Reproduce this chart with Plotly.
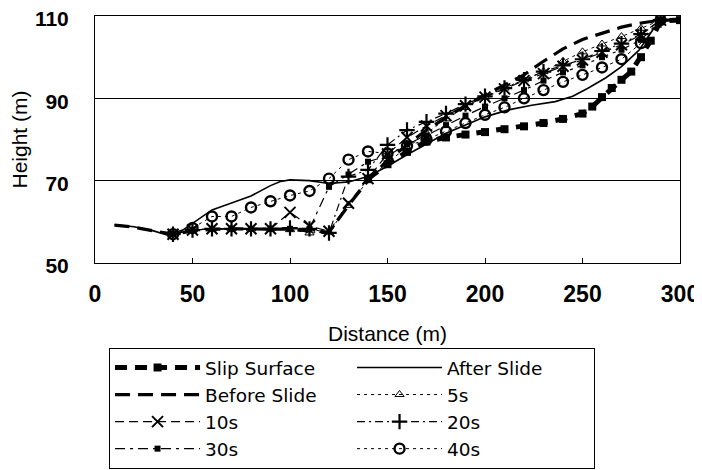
import plotly.graph_objects as go

# ---------------- data ----------------
x_time = [40, 50, 60, 70, 80, 90, 100, 110, 120, 130, 140, 150, 160, 170, 180,
          190, 200, 210, 220, 230, 240, 250, 260, 270, 280, 290]

y_5s = [57, 58, 58.3, 58.3, 58.3, 58.3, 58.1, 57.3, 57.5, 64, 70, 74.5, 78, 81.5, 85,
        87.8, 90.3, 92.5, 94.5, 96.5, 99, 101.3, 103.2, 105, 107, 109]
y_10s = [57, 58, 58.3, 58.3, 58.3, 58.3, 62.3, 59, 57.7, 64.5, 70.5, 76.5, 80.5, 83.3, 85.8,
         88.2, 90.3, 92.3, 94.3, 96, 97.8, 99.3, 101.2, 103, 105.4, 109]
y_20s = [57, 58, 58.3, 58.3, 58.3, 58.3, 58.5, 58.3, 57.3, 71, 72.6, 78.7, 82.3, 84.3, 86.3,
         88.6, 90.5, 92.5, 94.5, 96.5, 98, 99.5, 101.5, 103.3, 105.6, 109]
y_30s = [57, 58, 58.3, 58.3, 58.3, 58.3, 58.3, 58.3, 68.5, 71.5, 74.6, 76, 78.8, 81, 83.5,
         85.8, 88, 90, 92, 94.3, 96.3, 98, 100, 101.8, 104.2, 109]
y_40s = [57, 58.5, 61.3, 61.3, 63.5, 65, 66.4, 67.5, 70.5, 75.1, 77.1, 76.6, 78.4, 80, 82,
         84, 86, 87.8, 90, 92, 94, 95.7, 97.5, 99.5, 103.4, 109]

x_before = [10, 20, 30, 40, 50, 60, 70, 80, 90, 100, 110, 120, 130, 140, 150, 160, 170,
            180, 190, 200, 210, 220, 230, 240, 250, 260, 270, 280, 290, 300]
y_before = [59.2, 58.7, 57.8, 57, 57.8, 58.2, 58.3, 58.3, 58.3, 58.2, 57.8, 57.5, 64, 70,
            75, 78.7, 82.3, 85.3, 88.3, 90.8, 93.2, 95.7, 99, 102, 104.3, 105.9, 107.3,
            108.3, 109, 109]

x_slip = [140, 150, 160, 170, 180, 190, 200, 210, 220, 230, 240, 250, 255, 260,
          265, 270, 275, 280, 285, 290, 300]
y_slip = [70.5, 74, 77, 79.5, 80.5, 81.2, 81.8, 82.5, 83.2, 84, 85, 86.3, 88, 90.3,
          92.5, 94.5, 96.5, 100, 104, 108.8, 109]

x_after = [10, 20, 30, 37, 45, 50, 60, 70, 80, 90, 95, 100, 110, 120, 130, 140, 150, 160,
           170, 180, 190, 200, 212, 224, 236, 245, 253, 262, 270, 279, 286, 290, 300]
y_after = [59.3, 58.8, 57.8, 56.8, 58, 59.7, 62.9, 64.6, 66.3, 68.8, 69.8, 70.2, 70, 69.3,
           69.7, 71, 73.5, 76.3, 79, 81.5, 83.5, 85.5, 87.2, 88.3, 89.2, 90.5, 92.5, 95,
           97.7, 101.7, 106.6, 109, 109]

x_ticks = [0, 50, 100, 150, 200, 250, 300]
y_ticks = [50, 70, 90, 110]

FONT = "Liberation Sans, Arial, sans-serif"
LFONT = "DejaVu Sans, Liberation Sans, sans-serif"
K = "black"

fig = go.Figure()

fig.add_trace(go.Scatter(
    x=x_slip, y=y_slip, name="Slip Surface", mode="lines+markers",
    line=dict(color=K, width=5, dash="12px,8px"),
    marker=dict(symbol="square", size=8, color=K)))
fig.add_trace(go.Scatter(
    x=x_after, y=y_after, name="After Slide", mode="lines",
    line=dict(color=K, width=1.6)))
fig.add_trace(go.Scatter(
    x=x_before, y=y_before, name="Before Slide", mode="lines",
    line=dict(color=K, width=3.2, dash="15px,8px")))
fig.add_trace(go.Scatter(
    x=x_time, y=y_5s, name="5s", mode="lines+markers",
    line=dict(color=K, width=1, dash="3px,4px"),
    marker=dict(symbol="triangle-up-open", size=8, color=K, line=dict(width=1))))
fig.add_trace(go.Scatter(
    x=x_time, y=y_10s, name="10s", mode="lines+markers",
    line=dict(color=K, width=1.2, dash="9px,5px"),
    marker=dict(symbol="x-thin-open", size=11, color=K, line=dict(width=2))))
fig.add_trace(go.Scatter(
    x=x_time, y=y_20s, name="20s", mode="lines+markers",
    line=dict(color=K, width=1.2, dash="8px,4px,2px,4px"),
    marker=dict(symbol="cross-thin-open", size=11, color=K, line=dict(width=2.2))))
fig.add_trace(go.Scatter(
    x=x_time, y=y_30s, name="30s", mode="lines+markers",
    line=dict(color=K, width=1.2, dash="10px,5px,3px,5px"),
    marker=dict(symbol="square", size=6, color=K)))
fig.add_trace(go.Scatter(
    x=x_time, y=y_40s, name="40s", mode="lines+markers",
    line=dict(color=K, width=1, dash="3px,4px"),
    marker=dict(symbol="circle-open", size=10, color=K, line=dict(width=2.4))))

# the page body adds an 8px offset, so the figure is sized to fill the rest of the window
fig.update_layout(
    width=694, height=462,
    margin=dict(l=87, r=22, t=8, b=207, autoexpand=False),
    paper_bgcolor="white", plot_bgcolor="white",
    font=dict(family=FONT, color=K),
    showlegend=True,
    legend=dict(
        orientation="h", x=0.024, y=-0.344, xanchor="left", yanchor="top",
        bordercolor=K, borderwidth=1, bgcolor="white",
        font=dict(family=LFONT, size=18.5, color=K),
        itemwidth=85, entrywidth=142, entrywidthmode="pixels",
        tracegroupgap=0, traceorder="normal"),
    xaxis=dict(
        range=[0, 300], tickvals=x_ticks, ticktext=[str(v) for v in x_ticks],
        showline=True, linecolor=K, linewidth=1, mirror=True, automargin=False,
        ticks="inside", ticklen=5, tickcolor=K, showgrid=False, zeroline=False,
        tickfont=dict(family=FONT, size=23, color=K, weight="bold"),
        ticklabelstandoff=10, ticklabeloverflow="allow",
        title=dict(text="Distance (m)", font=dict(family=FONT, size=21, color=K),
                   standoff=20)),
    yaxis=dict(
        range=[50, 110], tickvals=y_ticks, ticktext=[str(v) for v in y_ticks],
        showline=True, linecolor=K, linewidth=1, mirror=True, automargin=False,
        ticks="", showgrid=True, gridcolor=K, gridwidth=1, zeroline=False,
        tickfont=dict(family=FONT, size=21, color=K, weight="bold"),
        ticklabelstandoff=21, ticklabeloverflow="allow", ticklabelshift=3,
        title=dict(text="Height (m)", font=dict(family=FONT, size=21, color=K),
                   standoff=2)),
)

fig.write_html("out.html")
